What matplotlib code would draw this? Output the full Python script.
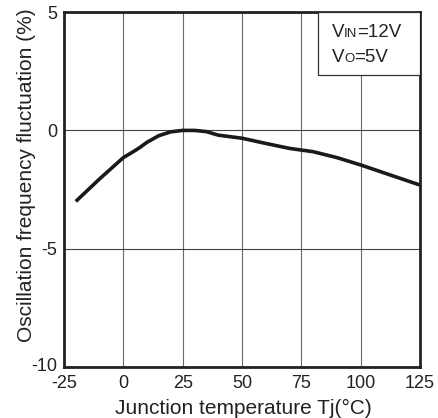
import matplotlib
matplotlib.use('Agg')
import matplotlib.pyplot as plt
from matplotlib.patches import Rectangle
from matplotlib.transforms import offset_copy

plt.rcParams['font.family'] = ['Liberation Sans', 'DejaVu Sans']
plt.rcParams['axes.unicode_minus'] = False

# data
temp = [-20, -10, 0, 5, 7, 10, 15, 20, 25, 30, 35, 40, 50, 60, 70, 75, 80, 90, 100, 110, 125]
fluct = [-3.0, -2.05, -1.15, -0.85, -0.72, -0.5, -0.22, -0.06, 0.0, 0.0, -0.05, -0.2,
         -0.33, -0.55, -0.76, -0.83, -0.9, -1.15, -1.46, -1.8, -2.31]
xticks = [-25, 0, 25, 50, 75, 100, 125]
yticks = [-10, -5, 0, 5]

fig = plt.figure(figsize=(4.38, 4.18), dpi=100)
ax = fig.add_axes([0.146, 0.122, 0.813, 0.849])

ax.plot(temp, fluct, color='#1a1a1a', lw=2.6, solid_capstyle='butt')

ax.set_xlim(-25, 125)
ax.set_ylim(-10, 5)
ax.set_xticks(xticks)
ax.set_yticks(yticks)
ax.tick_params(length=0, labelsize=13, colors='#222222')
ax.tick_params(axis='x', pad=6)
ax.tick_params(axis='y', pad=5)
for lab in ax.get_yticklabels():
    lab.set_verticalalignment('center_baseline')
# lift the bottom y label a little so it clears "-25"
ylabs = ax.get_yticklabels()
ylabs[0].set_transform(offset_copy(ylabs[0].get_transform(), fig=fig, x=0, y=3, units='dots'))
# vertical grid a bit lighter than horizontal, as in the reference
ax.grid(True, axis='x', color='#6a6a6a', lw=0.8)
ax.grid(True, axis='y', color='#444444', lw=0.8)
for s in ax.spines.values():
    s.set_linewidth(2.0)
    s.set_color('#222222')

ax.set_xlabel('Junction temperature Tj(\u00b0C)', fontsize=15, color='#222222', va='baseline')
ax.set_ylabel('Oscillation frequency fluctuation (%)', fontsize=15, color='#222222')
ax.xaxis.set_label_coords(0.503, -0.133)
ax.yaxis.set_label_coords(-0.079, 0.541)

# condition box in the top right corner
ax.add_patch(Rectangle((0.713, 0.822), 0.287, 0.178, transform=ax.transAxes,
                       facecolor='white', edgecolor='#333333', lw=0.9, zorder=3))

renderer = fig.canvas.get_renderer()
def mixed(x, y, parts):
    trans = ax.transAxes
    for txt, size in parts:
        t = ax.text(x, y, txt, transform=trans, fontsize=size, color='#222222',
                    va='baseline', ha='left', zorder=4)
        w = t.get_window_extent(renderer).width
        trans = offset_copy(trans, fig=fig, x=w, y=0, units='dots')

mixed(0.752, 0.93, [('V', 13.5), ('IN', 9.5), ('=12V', 13.5)])
mixed(0.752, 0.859, [('V', 13.5), ('O', 9.5), ('=5V', 13.5)])

fig.savefig('out.png', dpi=100)
